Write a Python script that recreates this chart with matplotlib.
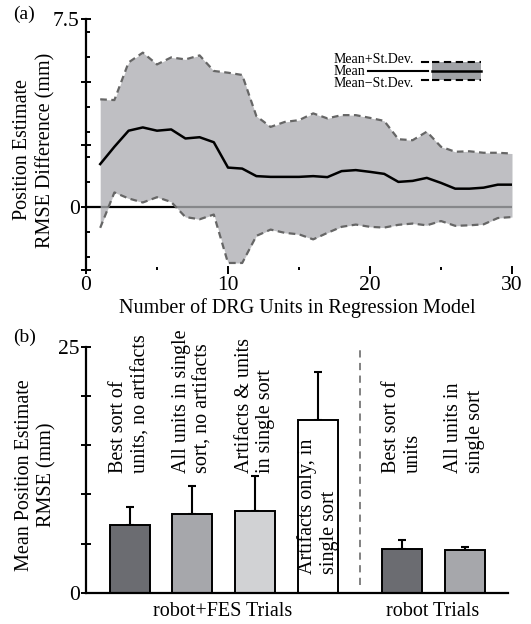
import numpy as np
import matplotlib
matplotlib.use('Agg')
import matplotlib.pyplot as plt
from matplotlib.transforms import blended_transform_factory

plt.rcParams['font.family'] = ['Liberation Serif', 'DejaVu Serif']

# panel (a) data
n_units = np.arange(1, 31)
mean_diff = [1.72, 2.41, 3.05, 3.18, 3.05, 3.10, 2.74, 2.79, 2.59, 1.58,
             1.54, 1.24, 1.21, 1.21, 1.21, 1.24, 1.20, 1.44, 1.48, 1.41,
             1.33, 1.01, 1.05, 1.17, 0.97, 0.74, 0.74, 0.78, 0.90, 0.90]
upper_diff = [4.30, 4.27, 5.77, 6.16, 5.69, 5.97, 5.89, 6.05, 5.43, 5.36,
              5.27, 3.63, 3.20, 3.40, 3.47, 3.74, 3.54, 3.67, 3.67, 3.56,
              3.44, 2.71, 2.67, 3.01, 2.41, 2.21, 2.23, 2.17, 2.17, 2.14]
lower_diff = [-0.82, 0.59, 0.35, 0.19, 0.40, 0.21, -0.39, -0.48, -0.29, -2.22,
              -2.22, -1.14, -0.89, -1.02, -1.08, -1.28, -1.02, -0.78, -0.69, -0.78,
              -0.81, -0.70, -0.65, -0.72, -0.55, -0.74, -0.72, -0.68, -0.43, -0.39]

# panel (b) data
bar_labels = ['Best sort of\nunits, no artifacts',
              'All units in single\nsort, no artifacts',
              'Artifacts & units\nin single sort',
              'Artifacts only, in\nsingle sort',
              'Best sort of\nunits',
              'All units in\nsingle sort']
bar_means = [6.9, 7.95, 8.3, 17.55, 4.45, 4.3]
bar_errs = [1.85, 2.9, 3.55, 4.85, 0.9, 0.3]
groups = ['robot+FES Trials', 'robot Trials']

bar_colors = ['#6b6c71', '#a6a7ab', '#d1d2d4', 'white', '#6b6c71', '#a6a7ab']
xpos = np.concatenate([np.arange(4), 4.35 + np.arange(2)])

fig = plt.figure(figsize=(5.31, 6.24), dpi=100)

# ---------------- panel (a)
ax = fig.add_axes([86/531, 1 - 270/624, 426/531, 251/624])
ax.plot([0, 30], [0, 0], color='black', lw=1.6, zorder=1)
ax.fill_between(n_units, lower_diff, upper_diff, color='#adaeb2', alpha=0.78,
                lw=0, zorder=2)
ax.plot(n_units, upper_diff, color='#666666', lw=1.6, ls=(0, (3, 2)), zorder=3)
ax.plot(n_units, lower_diff, color='#666666', lw=1.6, ls=(0, (3, 2)), zorder=3)
ax.plot(n_units, mean_diff, color='black', lw=1.8, zorder=4)
ax.set_xlim(0, 30)
ax.set_ylim(-2.5, 7.5)
for s in ['top', 'right', 'bottom']:
    ax.spines[s].set_visible(False)
ax.spines['left'].set_linewidth(1.6)
ax.set_yticks([-2.5, 0, 2.5, 5, 7.5])
ax.set_yticklabels(['', '0', '', '', '7.5'])
ax.set_yticks(np.arange(-2, 8), minor=True)
ax.tick_params(axis='y', which='major', direction='inout', length=7, width=1.4,
               labelsize=15.5, pad=1)
ax.tick_params(axis='y', which='minor', direction='in', length=3, width=1.4)
ax.set_xticks([0, 10, 20, 30])
ax.set_xticks([5, 15, 25], minor=True)
ax.tick_params(axis='x', which='major', direction='inout', length=6, width=1.4,
               labelsize=15.5, pad=1)
ax.tick_params(axis='x', which='minor', direction='in', length=2, width=1.4)

# legend drawn by hand
ta = ax.transAxes
ax.text(0.5806, 0.839, 'Mean+St.Dev.', transform=ta, fontsize=10, va='center')
ax.text(0.5806, 0.791, 'Mean', transform=ta, fontsize=10, va='center')
ax.text(0.5806, 0.745, 'Mean\u2212St.Dev.', transform=ta, fontsize=10, va='center')
ax.plot([0.788, 0.803], [0.827, 0.827], transform=ta, color='black', lw=1.5)
ax.plot([0.788, 0.803], [0.755, 0.755], transform=ta, color='black', lw=1.5)
ax.plot([0.662, 0.803], [0.791, 0.791], transform=ta, color='black', lw=1.5)
ax.add_patch(plt.Rectangle((0.813, 0.755), 0.114, 0.072, transform=ta,
                           color='#a0a2a6', lw=0))
ax.plot([0.813, 0.927], [0.827, 0.827], transform=ta, color='black', lw=1.5,
        ls=(0, (3.5, 2.2)))
ax.plot([0.813, 0.927], [0.755, 0.755], transform=ta, color='black', lw=1.5,
        ls=(0, (3.5, 2.2)))
ax.plot([0.813, 0.927], [0.791, 0.791], transform=ta, color='black', lw=1.8)

fig.text(34/531, 1 - 150/624, 'Position Estimate\nRMSE Difference (mm)',
         rotation=90, ha='center', va='center', fontsize=14.5, linespacing=1.25)
fig.text(297/531, 1 - 308/624, 'Number of DRG Units in Regression Model',
         ha='center', va='center', fontsize=14.5)
fig.text(13/531, 1 - 14/624, '(a)', ha='left', va='center', fontsize=14)

# ---------------- panel (b)
bx = fig.add_axes([86/531, 1 - 592.7/624, 422/531, 246/624])
bx.bar(xpos, bar_means, width=0.64, color=bar_colors, edgecolor='black',
       lw=1.4, zorder=2)
bx.errorbar(xpos, bar_means, yerr=[np.zeros(len(bar_errs)), bar_errs],
            fmt='none', ecolor='black', elinewidth=1.5, capsize=3, capthick=1.5,
            zorder=1)
for i, lab in enumerate(bar_labels):
    if i == 3:
        ybase = 1.9
    else:
        ybase = 12.2
    bx.text(xpos[i], ybase, lab, rotation=90, ha='center', va='bottom',
            multialignment='left', fontsize=14.5, linespacing=1.2, zorder=3)
bx.axvline(3.67, ymin=0.03, ymax=1, color='#777777', lw=1.3, ls=(0, (4, 3)))
bx.set_xlim(-0.70, 6.04)
bx.set_ylim(0, 25)
for s in ['top', 'right']:
    bx.spines[s].set_visible(False)
bx.spines['left'].set_linewidth(1.6)
bx.spines['bottom'].set_linewidth(1.6)
bx.set_xticks([])
bx.set_yticks(np.arange(0, 26, 5))
bx.set_yticklabels(['0', '', '', '', '', '25'])
bx.tick_params(axis='y', direction='inout', length=7, width=1.4,
               labelsize=15.5, pad=1)
bt = blended_transform_factory(bx.transData, bx.transAxes)
bx.text(1.49, -0.075, groups[0], transform=bt, ha='center', va='center',
        fontsize=14.5)
bx.text(4.84, -0.075, groups[1], transform=bt, ha='center', va='center',
        fontsize=14.5)

fig.text(36/531, 1 - 475/624, 'Mean Position Estimate\nRMSE (mm)',
         rotation=90, ha='center', va='center', fontsize=14.5, linespacing=1.25)
fig.text(13/531, 1 - 337/624, '(b)', ha='left', va='center', fontsize=14)

fig.savefig('out.png', dpi=100)
